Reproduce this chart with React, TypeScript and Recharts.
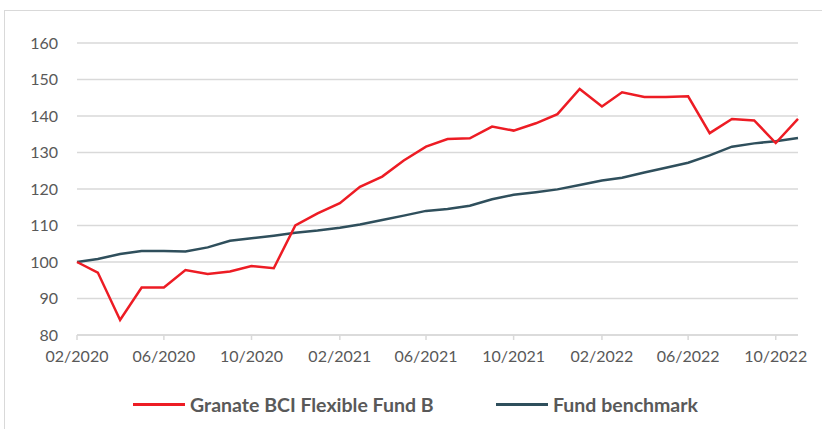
import { CartesianGrid, Line, LineChart, XAxis, YAxis } from "recharts";

// monthly observations, first of each month
const months = [
  "2020-02", "2020-03", "2020-04", "2020-05", "2020-06", "2020-07", "2020-08", "2020-09", "2020-10", "2020-11", "2020-12",
  "2021-01", "2021-02", "2021-03", "2021-04", "2021-05", "2021-06", "2021-07", "2021-08", "2021-09", "2021-10", "2021-11", "2021-12",
  "2022-01", "2022-02", "2022-03", "2022-04", "2022-05", "2022-06", "2022-07", "2022-08", "2022-09", "2022-10", "2022-11",
];

const fundValues = [
  100, 97.1, 84.1, 93.0, 93.0, 97.8, 96.7, 97.4, 98.9, 98.3, 110.0,
  113.3, 116.1, 120.6, 123.4, 127.8, 131.6, 133.7, 133.9, 137.1, 136.0, 138.0, 140.5,
  147.4, 142.6, 146.5, 145.2, 145.2, 145.4, 135.3, 139.2, 138.8, 132.6, 139.2,
];

const benchmarkValues = [
  100, 100.8, 102.2, 103.0, 103.0, 102.9, 104.0, 105.8, 106.5, 107.2, 108.0,
  108.6, 109.4, 110.3, 111.5, 112.7, 114.0, 114.5, 115.4, 117.2, 118.4, 119.1, 119.9,
  121.1, 122.3, 123.1, 124.5, 125.8, 127.2, 129.2, 131.6, 132.5, 133.1, 134.0,
];

const tickMonths = [
  "2020-02", "2020-06", "2020-10", "2021-02", "2021-06", "2021-10", "2022-02", "2022-06", "2022-10",
];

const yTicks = [80, 90, 100, 110, 120, 130, 140, 150, 160];

const seriesNames = ["Granate BCI Flexible Fund B", "Fund benchmark"];
const seriesColors = ["#ED1C24", "#2F4F5C"];

const toTime = (m: string) => {
  const [y, mo] = m.split("-").map(Number);
  return Date.UTC(y, mo - 1, 1);
};

const fmt = (t: number) => {
  const d = new Date(t);
  const mm = String(d.getUTCMonth() + 1).padStart(2, "0");
  return `${mm}/${d.getUTCFullYear()}`;
};

const data = months.map((m, i) => ({
  t: toTime(m),
  fund: fundValues[i],
  bench: benchmarkValues[i],
}));

const font = "Lato, 'Open Sans', sans-serif";

export default function App() {
  return (
    <div
      style={{
        position: "fixed",
        left: 0,
        top: 0,
        width: 822,
        height: 429,
        overflow: "hidden",
        background: "#fff",
        fontFamily: font,
      }}
    >
      <div
        style={{
          position: "absolute",
          left: 4,
          top: 10,
          width: 840,
          height: 440,
          border: "1px solid #d9d9d9",
        }}
      />
      <LineChart
        width={822}
        height={429}
        data={data}
        margin={{ top: 43, right: 24, bottom: 64, left: 0 }}
        style={{ position: "absolute", left: 0, top: 0 }}
      >
        <CartesianGrid vertical={false} stroke="#d9d9d9" strokeWidth={1.5} />
        <XAxis
          dataKey="t"
          type="number"
          scale="time"
          domain={[toTime(months[0]), toTime(months[months.length - 1])]}
          ticks={tickMonths.map(toTime)}
          tickFormatter={fmt}
          height={30}
          stroke="#d9d9d9"
          strokeWidth={1.5}
          tickSize={5}
          tickMargin={11}
          tick={{ fill: "#595959", fontSize: 16, fontFamily: font }}
          interval={0}
        />
        <YAxis
          domain={[80, 160]}
          ticks={yTicks}
          width={77}
          axisLine={false}
          tickLine={false}
          tickSize={0}
          tickMargin={19}
          tick={{ fill: "#595959", fontSize: 16, fontFamily: font }}
        />
        <Line
          dataKey="bench"
          name={seriesNames[1]}
          stroke={seriesColors[1]}
          strokeWidth={2.5}
          dot={false}
          isAnimationActive={false}
        />
        <Line
          dataKey="fund"
          name={seriesNames[0]}
          stroke={seriesColors[0]}
          strokeWidth={2.5}
          dot={false}
          isAnimationActive={false}
        />
      </LineChart>
      {seriesNames.map((name, i) => (
        <div
          key={name}
          style={{
            position: "absolute",
            left: i === 0 ? 133 : 496,
            top: 391,
            height: 26,
            display: "flex",
            alignItems: "center",
            gap: 5,
          }}
        >
          <div style={{ width: 52, height: 3, background: seriesColors[i] }} />
          <span style={{ fontSize: 19.5, fontWeight: 700, color: "#595959" }}>{name}</span>
        </div>
      ))}
    </div>
  );
}
